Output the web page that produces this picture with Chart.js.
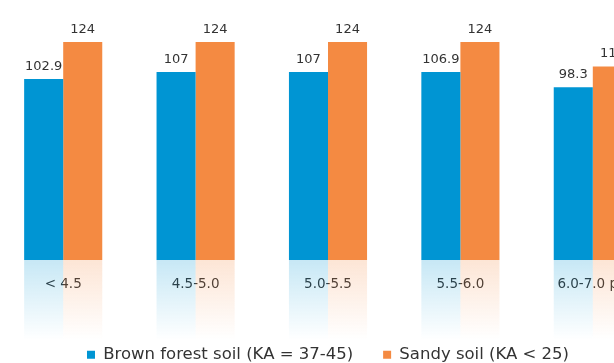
<!DOCTYPE html>
<html>
<head>
<meta charset="utf-8">
<script src="https://cdn.jsdelivr.net/npm/chart.js@4/dist/chart.umd.min.js"></script>
<style>
  html, body { margin: 0; padding: 0; background: #fff; overflow: hidden; }
  body { width: 614px; height: 363px; position: relative; }
  #wrap { position: absolute; left: -3px; top: 0; width: 662px; height: 363px; }
</style>
</head>
<body>
<div id="wrap"><canvas id="c" width="662" height="363"></canvas></div>
<script>
// pH ranges and yields for the two soil types
const categories = ['< 4.5', '4.5-5.0', '5.0-5.5', '5.5-6.0', '6.0-7.0 pH'];
const brownForest = [102.9, 107, 107, 106.9, 98.3];
const sandy = [124, 124, 124, 124, 110];
const seriesNames = ['Brown forest soil (KA = 37-45)', 'Sandy soil (KA < 25)'];

const BLUE = '#0095d3';
const ORANGE = '#f48a42';
const FONT = '"DejaVu Sans", sans-serif';

// Faded mirror strip under each bar, using the bar's own geometry
const reflection = {
  id: 'reflection',
  beforeDatasetsDraw(chart) {
    const ctx = chart.ctx;
    const base = chart.chartArea.bottom;
    const depth = 80;
    const tints = [[0, 149, 211], [244, 138, 66]];
    chart.data.datasets.forEach((ds, i) => {
      const meta = chart.getDatasetMeta(i);
      const [r, g, b] = tints[i];
      meta.data.forEach(bar => {
        const w = bar.width;
        const x = bar.x - w / 2;
        const grad = ctx.createLinearGradient(0, base, 0, base + depth);
        grad.addColorStop(0, `rgba(${r},${g},${b},0.22)`);
        grad.addColorStop(1, `rgba(${r},${g},${b},0)`);
        ctx.save();
        ctx.fillStyle = grad;
        ctx.fillRect(x, base, w, depth);
        ctx.restore();
      });
    });
  }
};

// Value printed above each bar
const valueLabels = {
  id: 'valueLabels',
  afterDatasetsDraw(chart) {
    const ctx = chart.ctx;
    ctx.save();
    ctx.font = '13px ' + FONT;
    ctx.fillStyle = '#333';
    ctx.textAlign = 'center';
    ctx.textBaseline = 'bottom';
    chart.data.datasets.forEach((ds, i) => {
      chart.getDatasetMeta(i).data.forEach((bar, j) => {
        ctx.fillText(String(ds.data[j]), bar.x, bar.y - 6);
      });
    });
    ctx.restore();
  }
};

new Chart(document.getElementById('c'), {
  type: 'bar',
  data: {
    labels: categories,
    datasets: [
      { label: seriesNames[0], data: brownForest, backgroundColor: BLUE },
      { label: seriesNames[1], data: sandy, backgroundColor: ORANGE }
    ]
  },
  options: {
    responsive: false,
    animation: false,
    layout: { padding: { top: 10, left: 0, right: 0, bottom: -10 } },
    datasets: { bar: { categoryPercentage: 0.59, barPercentage: 1.0 } },
    scales: {
      x: {
        grid: { display: false, drawTicks: false },
        border: { display: false },
        ticks: { color: '#333', font: { family: FONT, size: 13.5 }, padding: 16 },
        afterFit(scale) { scale.height = 56.5; }
      },
      y: {
        display: false,
        min: 0,
        max: 142.2
      }
    },
    plugins: {
      legend: {
        position: 'bottom',
        labels: {
          color: '#333',
          font: { family: FONT, size: 16.5 },
          boxWidth: 8,
          boxHeight: 8,
          padding: 30
        }
      },
      tooltip: { enabled: false }
    }
  },
  plugins: [reflection, valueLabels]
});
</script>
</body>
</html>
